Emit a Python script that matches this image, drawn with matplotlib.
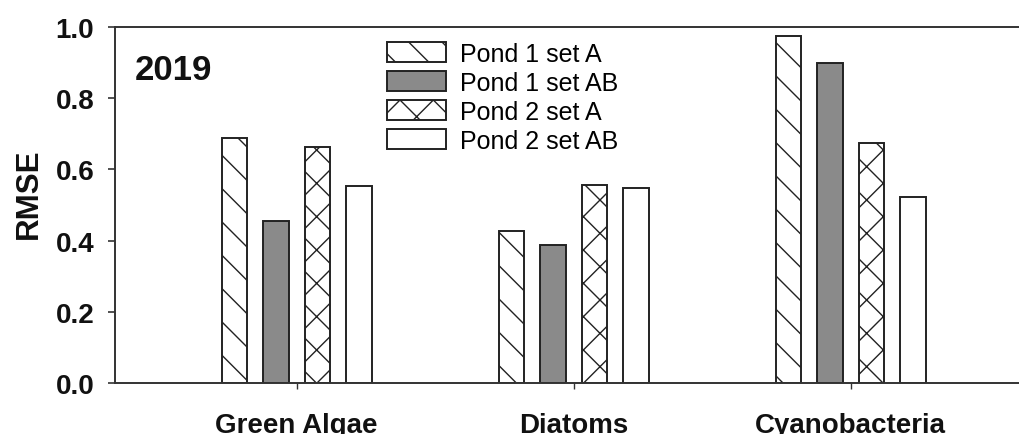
import numpy as np
import matplotlib
matplotlib.use("Agg")
import matplotlib.pyplot as plt

# ── Data ─────────────────────────────────────────────────────────────────────
groups = ["Green Algae", "Diatoms", "Cyanobacteria"]
series = ["Pond 1 set A", "Pond 1 set AB", "Pond 2 set A", "Pond 2 set AB"]
pond1_A = [0.688, 0.428, 0.976]
pond1_AB = [0.456, 0.389, 0.898]
pond2_A = [0.662, 0.556, 0.673]
pond2_AB = [0.554, 0.548, 0.523]
values = [pond1_A, pond1_AB, pond2_A, pond2_AB]

plt.rcParams['font.family'] = ['Liberation Sans', 'DejaVu Sans']
plt.rcParams['hatch.linewidth'] = 1.0
plt.rcParams['hatch.color'] = '#222222'

W, H = 1019, 435
fig = plt.figure(figsize=(W / 100, H / 100), dpi=100)
# osy: vlevo 115 px, vpravo až k okraji obrázku, nahoře 28 px, dole 384 px
ax = fig.add_axes([115 / W, 1 - 384 / H, 1 - 115 / W, (384 - 28) / H])

styles = [dict(facecolor='white', hatch='\\'),
          dict(facecolor='#8a8a8a', hatch=None),
          dict(facecolor='white', hatch='x'),
          dict(facecolor='white', hatch=None)]

x = np.arange(len(groups))
step = 0.15
width = 0.092
for i, (vals, name, st) in enumerate(zip(values, series, styles)):
    ax.bar(x + (i - 1.5) * step, vals, width, label=name,
           edgecolor='#222222', linewidth=1.4, **st)

ax.set_xlim(-0.656, 2.608)
ax.set_ylim(0, 1.0)
yt = np.arange(0, 1.01, 0.2)
ax.set_yticks(yt)
ax.set_yticklabels([f"{v:.1f}" for v in yt])
ax.set_xticks(x)
ax.set_xticklabels(groups)

for s in ['left', 'top', 'bottom']:
    ax.spines[s].set_color('#333333')
    ax.spines[s].set_linewidth(1.4)
ax.spines['right'].set_visible(False)

ax.tick_params(axis='y', direction='out', length=5, width=1.2, pad=10,
               labelsize=20, colors='#333333', labelcolor='#111111')
ax.tick_params(axis='x', direction='out', length=4, width=1.0, pad=17,
               labelsize=20, colors='#333333', labelcolor='#111111')
for lab in ax.get_xticklabels() + ax.get_yticklabels():
    lab.set_fontweight('bold')

fig.text(29 / W, 1 - 194 / H, "RMSE", rotation=90, fontsize=22.5,
         fontweight='bold', ha='center', va='center', color='#111111')
fig.text(135 / W, 1 - 80 / H, "2019", fontsize=25, fontweight='bold',
         ha='left', va='baseline', color='#111111')

ax.legend(loc='upper left', bbox_to_anchor=(387 / W, 1 - 43 / H),
          bbox_transform=fig.transFigure, frameon=False, fontsize=18,
          handlelength=2.35, handleheight=0.85, handletextpad=0.55,
          labelspacing=0.2, borderpad=0, borderaxespad=0)

plt.savefig("out.png", dpi=100)
